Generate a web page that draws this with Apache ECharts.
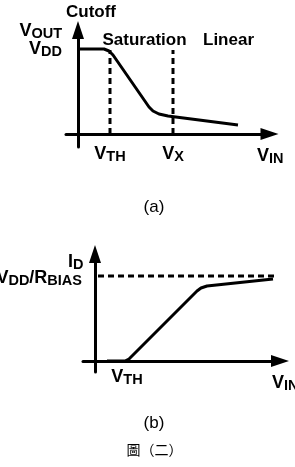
<!DOCTYPE html>
<html>
<head>
<meta charset="utf-8">
<script src="https://cdn.jsdelivr.net/npm/echarts@6/dist/echarts.min.js"></script>
<style>
html, body { margin: 0; padding: 0; background: #fff; }
#chart { width: 295px; height: 467px; }
</style>
</head>
<body>
<div id="chart"></div>
<script>
// (a) VOUT vs VIN  (units are ~px measured from the origin)
var curveA = [[0, 85], [26, 85], [31, 83], [35, 79], [71, 27], [75, 23], [81, 20], [90, 18], [160, 9]]
var markXA = [32, 95]            // VTH, VX
var markTopA = 84
var tickXA = ['{v|V}{s|TH}', '{v|V}{s|X}']
var levelYA = [85]               // VDD
var tickYA = ['{v|V}{s|DD}']

// (b) ID vs VIN
var curveB = [[12, 0], [30, 0], [34, 2], [37, 5], [102, 70], [106, 73], [112, 75], [178, 82]]
var limitB = 85                  // VDD/RBIAS
var limitSpanB = [3, 180]
var tickXB = [32]
var tickXBText = ['{v|V}{s|TH}']
var tickYBText = ['{v|V}{s|DD}{v|/R}{s|BIAS}']

var F = '"Liberation Sans", Arial, sans-serif'
var rich = {
    v: { fontSize: 18, fontWeight: 'bold', lineHeight: 20, color: '#000', fontFamily: F },
    s: { fontSize: 14.5, fontWeight: 'bold', lineHeight: 11, verticalAlign: 'bottom', color: '#000', fontFamily: F }
}

var chart = echarts.init(document.getElementById('chart'))

function axisLine() {
    return {
        show: true, onZero: true,
        symbol: ['none', 'triangle'], symbolSize: [12, 18],
        lineStyle: { color: '#000', width: 3 }
    }
}

function dashed(data, xi, yi) {
    return {
        type: 'line', xAxisIndex: xi, yAxisIndex: yi, data: data,
        showSymbol: false, clip: false, silent: true,
        lineStyle: { color: '#000', width: 3, type: [6, 4] }
    }
}

function txt(x, y, text, align, size, weight, family) {
    return {
        type: 'text', x: x, y: y,
        style: {
            text: text, rich: rich, align: align, verticalAlign: 'middle',
            fontSize: size || 17, fontWeight: weight || 'bold',
            fontFamily: family || F, fill: '#000'
        }
    }
}

var option = {
    animation: false,
    grid: [
        { left: 66, right: 25.5, top: 30, bottom: 320, outerBoundsMode: 'none' },
        { left: 83, right: 15, top: 254, bottom: 95, outerBoundsMode: 'none' }
    ],
    xAxis: [
        {
            gridIndex: 0, type: 'value', min: -12, max: 191.5,
            axisLine: axisLine(), axisTick: { show: false }, splitLine: { show: false },
            axisLabel: {
                customValues: markXA, margin: -3, rich: rich,
                formatter: function (v) { return tickXA[markXA.indexOf(v)] }
            }
        },
        {
            gridIndex: 1, type: 'value', min: -12, max: 185,
            axisLine: axisLine(), axisTick: { show: false }, splitLine: { show: false },
            axisLabel: {
                customValues: tickXB, margin: -5, rich: rich,
                formatter: function (v) { return tickXBText[0] }
            }
        }
    ],
    yAxis: [
        {
            gridIndex: 0, type: 'value', min: -13, max: 104,
            axisLine: axisLine(), axisTick: { show: false }, splitLine: { show: false },
            axisLabel: {
                customValues: levelYA, margin: 4, rich: rich,
                formatter: function (v) { return tickYA[0] }
            }
        },
        {
            gridIndex: 1, type: 'value', min: -11, max: 107,
            axisLine: axisLine(), axisTick: { show: false }, splitLine: { show: false },
            axisLabel: {
                customValues: [limitB], margin: 1, rich: rich, padding: [5, 0, 0, 0],
                formatter: function (v) { return tickYBText[0] }
            }
        }
    ],
    series: [
        {
            type: 'line', xAxisIndex: 0, yAxisIndex: 0, data: curveA,
            showSymbol: false, clip: false,
            lineStyle: { color: '#000', width: 3 }
        },
        dashed([[markXA[0], 0], [markXA[0], markTopA]], 0, 0),
        dashed([[markXA[1], 0], [markXA[1], markTopA]], 0, 0),
        {
            type: 'line', xAxisIndex: 1, yAxisIndex: 1, data: curveB,
            showSymbol: false, clip: false,
            lineStyle: { color: '#000', width: 3 }
        },
        dashed([[limitSpanB[0], limitB], [limitSpanB[1], limitB]], 1, 1)
    ],
    graphic: [
        txt(91, 12.5, 'Cutoff', 'center'),
        txt(144.5, 40, 'Saturation', 'center'),
        txt(228.5, 40, 'Linear', 'center'),
        txt(62, 31, '{v|V}{s|OUT}', 'right'),
        txt(257, 156, '{v|V}{s|IN}', 'left'),
        txt(154, 207, '(a)', 'center', 17, 'normal'),
        txt(68, 262, '{v|I}{s|D}', 'left'),
        txt(272, 383, '{v|V}{s|IN}', 'left'),
        txt(154, 423, '(b)', 'center', 17, 'normal'),
        txt(154.5, 450, '圖（二）', 'center', 14, 'normal', '"Noto Sans CJK TC", sans-serif')
    ]
}
chart.setOption(option)
</script>
</body>
</html>
